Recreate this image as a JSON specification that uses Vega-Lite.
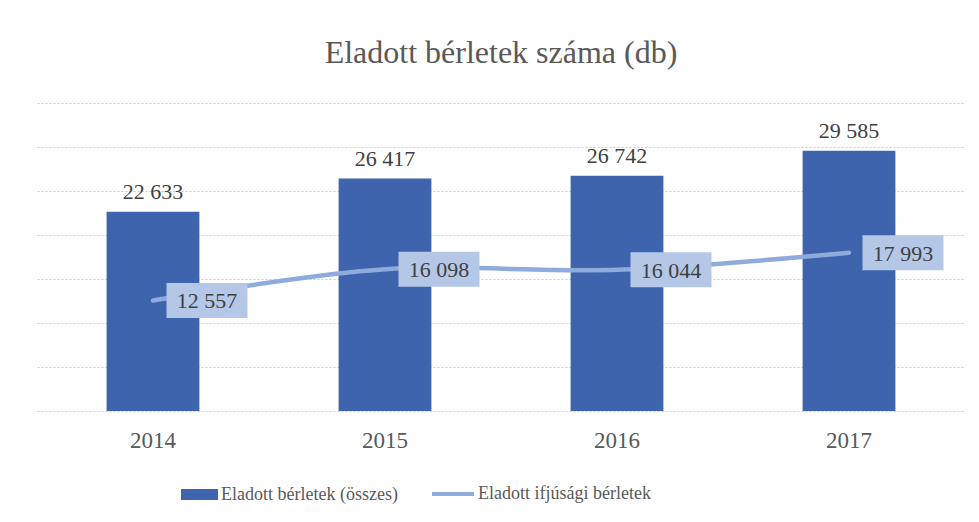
{
  "$schema": "https://vega.github.io/schema/vega-lite/v6.json",
  "autosize": {"type": "none"},
  "padding": {"left": 37, "top": 103, "right": 14, "bottom": 111},
  "width": 928,
  "height": 308,
  "background": "white",
  "title": {
    "text": "Eladott bérletek száma (db)",
    "fontSize": 32,
    "font": "Liberation Serif, Times New Roman, DejaVu Serif, serif",
    "fontWeight": "normal",
    "color": "#595959",
    "baseline": "alphabetic",
    "offset": 8,
    "anchor": "middle"
  },
  "data": {
    "values": [
      {"year": "2014", "total": 22633, "youth": 12557},
      {"year": "2015", "total": 26417, "youth": 16098},
      {"year": "2016", "total": 26742, "youth": 16044},
      {"year": "2017", "total": 29585, "youth": 17993}
    ]
  },
  "encoding": {
    "x": {
      "field": "year",
      "type": "ordinal",
      "scale": {"paddingInner": 0.6, "paddingOuter": 0.3},
      "axis": {
        "title": null,
        "domain": false,
        "ticks": false,
        "tickSize": 0,
        "grid": false,
        "labelAngle": 0,
        "labelFont": "Liberation Serif, Times New Roman, DejaVu Serif, serif",
        "labelFontSize": 23,
        "labelColor": "#595959",
        "labelBaseline": "alphabetic",
        "labelPadding": 36
      }
    }
  },
  "layer": [
    {
      "mark": {"type": "bar"},
      "encoding": {
        "y": {
          "field": "total",
          "type": "quantitative",
          "scale": {"domain": [0, 35000], "nice": false},
          "axis": {
            "title": null,
            "labels": false,
            "ticks": false,
            "domain": false,
            "grid": true,
            "values": [0, 5000, 10000, 15000, 20000, 25000, 30000, 35000],
            "gridColor": "#c8c8c8",
            "gridDash": [2, 2],
            "gridWidth": 1
          }
        },
        "fill": {
          "datum": "Eladott bérletek (összes)",
          "scale": {"range": ["#3d64ad"]},
          "legend": {
            "orient": "none",
            "legendX": 144,
            "legendY": 373,
            "title": null,
            "padding": 0,
            "symbolType": "M-1,-0.3H1V0.3H-1Z",
            "symbolSize": 1369,
            "symbolStrokeWidth": 0,
            "labelFont": "Liberation Serif, Times New Roman, DejaVu Serif, serif",
            "labelFontSize": 18,
            "labelColor": "#595959",
            "labelOffset": 3,
            "labelLimit": 400
          }
        }
      }
    },
    {
      "mark": {"type": "text", "baseline": "alphabetic", "dy": -13, "fontSize": 22, "font": "Liberation Serif, Times New Roman, DejaVu Serif, serif", "color": "#404040"},
      "encoding": {
        "y": {"field": "total", "type": "quantitative"},
        "text": {"field": "total", "type": "quantitative", "format": ",d"}
      }
    },
    {
      "mark": {"type": "line", "strokeWidth": 4.5, "interpolate": "catmull-rom", "strokeCap": "round"},
      "encoding": {
        "y": {"field": "youth", "type": "quantitative"},
        "stroke": {
          "datum": "Eladott ifjúsági bérletek",
          "scale": {"range": ["#8faadc"]},
          "legend": {
            "orient": "none",
            "legendX": 393,
            "legendY": 368,
            "title": null,
            "padding": 0,
            "symbolType": "stroke",
            "symbolSize": 1764,
            "symbolStrokeWidth": 4,
            "labelFont": "Liberation Serif, Times New Roman, DejaVu Serif, serif",
            "labelFontSize": 18,
            "labelColor": "#595959",
            "labelOffset": 2,
            "labelLimit": 400
          }
        }
      }
    },
    {
      "mark": {"type": "point", "shape": "M-1,-0.432H1V0.432H-1Z", "size": 6561, "filled": true, "fill": "#b4c7e7", "opacity": 1, "strokeWidth": 0, "xOffset": 54},
      "encoding": {
        "y": {"field": "youth", "type": "quantitative"}
      }
    },
    {
      "mark": {"type": "text", "baseline": "middle", "dx": 54, "dy": 1, "fontSize": 22, "font": "Liberation Serif, Times New Roman, DejaVu Serif, serif", "color": "#404040"},
      "encoding": {
        "y": {"field": "youth", "type": "quantitative"},
        "text": {"field": "youth", "type": "quantitative", "format": ",d"}
      }
    }
  ],
  "config": {
    "locale": {
      "number": {"decimal": ",", "thousands": " ", "grouping": [3], "currency": ["", ""]}
    },
    "view": {"stroke": null}
  }
}
